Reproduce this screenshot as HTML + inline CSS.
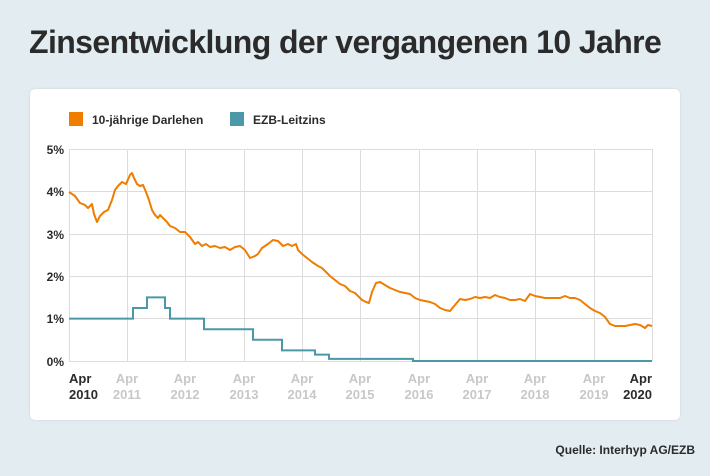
<!DOCTYPE html>
<html><head><meta charset="utf-8"><style>
html,body{margin:0;padding:0;}
body{width:710px;height:476px;background:#e3edf1;font-family:"Liberation Sans","DejaVu Sans",sans-serif;position:relative;overflow:hidden;}
.title{position:absolute;left:29px;top:22px;font-size:32px;font-weight:bold;color:#2b2b2b;letter-spacing:-0.6px;white-space:nowrap;line-height:40px;}
.card{position:absolute;left:30px;top:89px;width:650px;height:331px;background:#fff;border-radius:5px;box-shadow:0 0 2px #c9d3d7;}
.src{position:absolute;right:15px;top:443px;font-size:12px;font-weight:bold;color:#2b2b2b;}
</style></head><body>
<div class="title">Zinsentwicklung der vergangenen 10 Jahre</div>
<div class="card"></div>
<svg width="710" height="476" style="position:absolute;left:0;top:0" font-family="Liberation Sans, DejaVu Sans, sans-serif" font-weight="bold">
<rect x="69" y="112" width="14" height="14" fill="#ef7d00"/>
<text x="92" y="124" font-size="12" fill="#2b2b2b">10-jährige Darlehen</text>
<rect x="230" y="112" width="14" height="14" fill="#4a98a8"/>
<text x="253" y="124" font-size="12" fill="#2b2b2b">EZB-Leitzins</text>
<g stroke="#dcdcdc" stroke-width="1">
<line x1="69" x2="652" y1="149.5" y2="149.5"/><line x1="69" x2="652" y1="191.5" y2="191.5"/><line x1="69" x2="652" y1="234.5" y2="234.5"/><line x1="69" x2="652" y1="276.5" y2="276.5"/><line x1="69" x2="652" y1="318.5" y2="318.5"/><line x1="69" x2="652" y1="361.5" y2="361.5"/>
<line x1="69.5" x2="69.5" y1="149" y2="361"/><line x1="127.5" x2="127.5" y1="149" y2="361"/><line x1="185.5" x2="185.5" y1="149" y2="361"/><line x1="244.5" x2="244.5" y1="149" y2="361"/><line x1="302.5" x2="302.5" y1="149" y2="361"/><line x1="360.5" x2="360.5" y1="149" y2="361"/><line x1="419.5" x2="419.5" y1="149" y2="361"/><line x1="477.5" x2="477.5" y1="149" y2="361"/><line x1="535.5" x2="535.5" y1="149" y2="361"/><line x1="594.5" x2="594.5" y1="149" y2="361"/><line x1="652.5" x2="652.5" y1="149" y2="361"/>
</g>
<g font-size="12" fill="#2b2b2b" text-anchor="end">
<text x="64" y="154">5%</text><text x="64" y="196">4%</text><text x="64" y="239">3%</text><text x="64" y="281">2%</text><text x="64" y="323">1%</text><text x="64" y="366">0%</text>
</g>
<g font-size="13" fill="#c8c8c8" text-anchor="middle">
<text x="127" y="383">Apr</text><text x="127" y="399">2011</text>
<text x="185" y="383">Apr</text><text x="185" y="399">2012</text>
<text x="244" y="383">Apr</text><text x="244" y="399">2013</text>
<text x="302" y="383">Apr</text><text x="302" y="399">2014</text>
<text x="360" y="383">Apr</text><text x="360" y="399">2015</text>
<text x="419" y="383">Apr</text><text x="419" y="399">2016</text>
<text x="477" y="383">Apr</text><text x="477" y="399">2017</text>
<text x="535" y="383">Apr</text><text x="535" y="399">2018</text>
<text x="594" y="383">Apr</text><text x="594" y="399">2019</text>
</g>
<g font-size="13" fill="#2b2b2b">
<text x="69" y="383">Apr</text><text x="69" y="399">2010</text>
<text x="652" y="383" text-anchor="end">Apr</text><text x="652" y="399" text-anchor="end">2020</text>
</g>
<polyline fill="none" stroke="#4a98a8" stroke-width="2" points="69,318.6 133,318.6 133,308 147,308 147,297.4 165,297.4 165,308 170,308 170,318.6 204,318.6 204,329.2 253,329.2 253,339.8 282,339.8 282,350.4 315,350.4 315,354.6 329,354.6 329,358.9 413,358.9 413,361 652,361"/>
<polyline fill="none" stroke="#ef7d00" stroke-width="2" stroke-linejoin="round" points="69,192 75,196 80,203 85,205 88,208 92,204 94,214 97,222 100,216 104,212 108,210 112,200 115,190 118,186 122,182 126,184 130,175 132,173 134,178 137,184 140,186 143,185 146,192 149,200 152,210 155,215 158,218 160,215 163,218 167,222 170,226 175,228 180,232 185,232 190,237 195,244 198,242 202,246 206,244 210,247 215,246 220,248 225,247 230,250 235,247 240,246 245,250 250,258 255,256 258,254 262,248 268,244 273,240 278,241 283,246 288,244 292,246 296,244 298,250 302,254 307,258 312,262 318,266 322,268 326,272 330,276 335,280 340,284 345,286 350,291 355,293 358,296 362,300 366,302 369,303 372,292 376,283 380,282 385,285 390,288 395,290 400,292 405,293 410,294 415,298 420,300 425,301 430,302 435,304 440,308 445,310 450,311 455,305 460,299 465,300 470,299 475,297 480,298 485,297 490,298 495,295 500,297 505,298 510,300 515,300 520,299 525,301 530,294 535,296 540,297 545,298 550,298 555,298 560,298 565,296 570,298 575,298 580,300 585,304 590,308 595,311 600,313 605,317 610,324 615,326 620,326 625,326 630,325 635,324 640,325 645,328 648,325 652,326"/>
</svg>
<div class="src">Quelle: Interhyp AG/EZB</div>
</body></html>
